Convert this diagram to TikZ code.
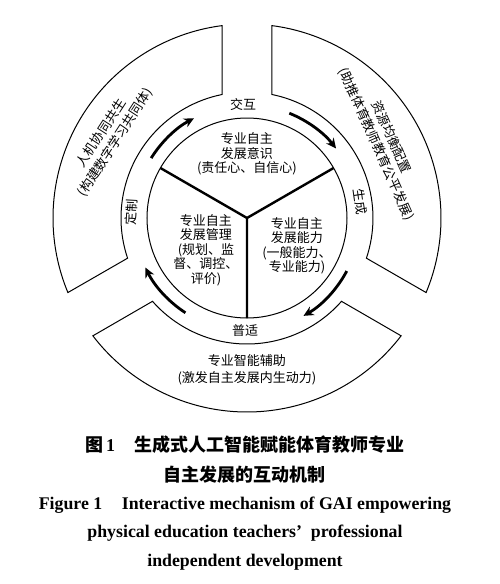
\documentclass[tikz,border=0pt]{standalone}
\usepackage{fontspec}
\setmainfont{Liberation Serif}
\newfontfamily\cjk{Noto Sans CJK SC}
\usetikzlibrary{arrows.meta}

\begin{document}
\begin{tikzpicture}[x=1pt,y=1pt,
    lbl/.style={font=\cjk\fontsize{13}{14.5}\selectfont,align=center,inner sep=0pt},
    seglbl/.style={lbl,font=\cjk\fontsize{13}{16.5}\selectfont},
    seg/.style={draw,line width=1pt},
    spoke/.style={line width=2.4pt},
    ringarrow/.style={line width=2.8pt,-{Stealth[length=10pt,width=9.5pt]}},
    capzh/.style={font=\cjk\bfseries\fontsize{18}{20}\selectfont,inner sep=0pt},
    capen/.style={font=\bfseries\fontsize{17.8}{20}\selectfont,inner sep=0pt}]
  \useasboundingbox (-247,-366) rectangle (253,218);
  \coordinate (O) at (0,0);
  % inner circle and spokes
  \draw[line width=1pt] (O) circle[radius=100];
  \draw[spoke] (O) -- (30:100) (O) -- (150:100) (O) -- (270:100);
  % outer segments
  \draw[seg] (-22.6:194) arc[start angle=-22.6,end angle=82.6,radius=194]
    -- (78.6:126) arc[start angle=78.6,end angle=-18.6,radius=126] -- cycle;
  \draw[seg] (97.4:194) arc[start angle=97.4,end angle=202.6,radius=194]
    -- (198.6:126) arc[start angle=198.6,end angle=101.4,radius=126] -- cycle;
  \draw[seg] (217.4:194) arc[start angle=217.4,end angle=322.6,radius=194]
    -- (318.6:126) arc[start angle=318.6,end angle=221.4,radius=126] -- cycle;
  % arrows in the ring
  \draw[ringarrow] (148:113) arc[start angle=148,end angle=118,radius=113];
  \draw[ringarrow] (68:113) arc[start angle=68,end angle=38,radius=113];
  \draw[ringarrow] (-28:113) arc[start angle=-28,end angle=-60,radius=113];
  \draw[ringarrow] (237:113) arc[start angle=237,end angle=206,radius=113];
  % ring labels
  \node[lbl] (jiaohu) at (92:114) {交互};
  \node[lbl,rotate=-82] (shengcheng) at (8:114) {生成};
  \node[lbl] (pushi) at (269:113) {普适};
  \node[lbl,rotate=87] (dingzhi) at (177:116) {定制};
  % texts in the inner circle
  \node[lbl] (yishi) at (0,64) {专业自主\\发展意识\\(责任心、自信心)};
  \node[lbl] (guanli) at (-41,-32) {专业自主\\发展管理\\(规划、监\\督、调控、\\评价)};
  \node[lbl] (nengli) at (50,-28) {专业自主\\发展能力\\(一般能力、\\专业能力)};
  % texts in the outer segments
  \node[seglbl,rotate=57] (gongsheng) at (150:160) {人机协同共生\\(构建数字学习共同体)};
  \node[seglbl,rotate=-66] (peizhi) at (29.5:157) {资源均衡配置\\(助推体育教师教育公平发展)};
  \node[seglbl] (fuzhu) at (0,-152) {专业智能辅助\\(激发自主发展内生动力)};
  % caption
  \node[capzh] (cap1) at (-2,-227) {图\,{\rmfamily 1}\hspace{1.1em}生成式人工智能赋能体育教师专业};
  \node[capzh] (cap2) at (-2,-257) {自主发展的互动机制};
  \node[capen] (cap3) at (-2,-287) {Figure 1\hspace{1.1em}Interactive mechanism of GAI empowering};
  \node[capen] (cap4) at (-2,-315) {physical education teachers’\enspace professional};
  \node[capen] (cap5) at (-2,-344) {independent development};
\end{tikzpicture}
\end{document}
